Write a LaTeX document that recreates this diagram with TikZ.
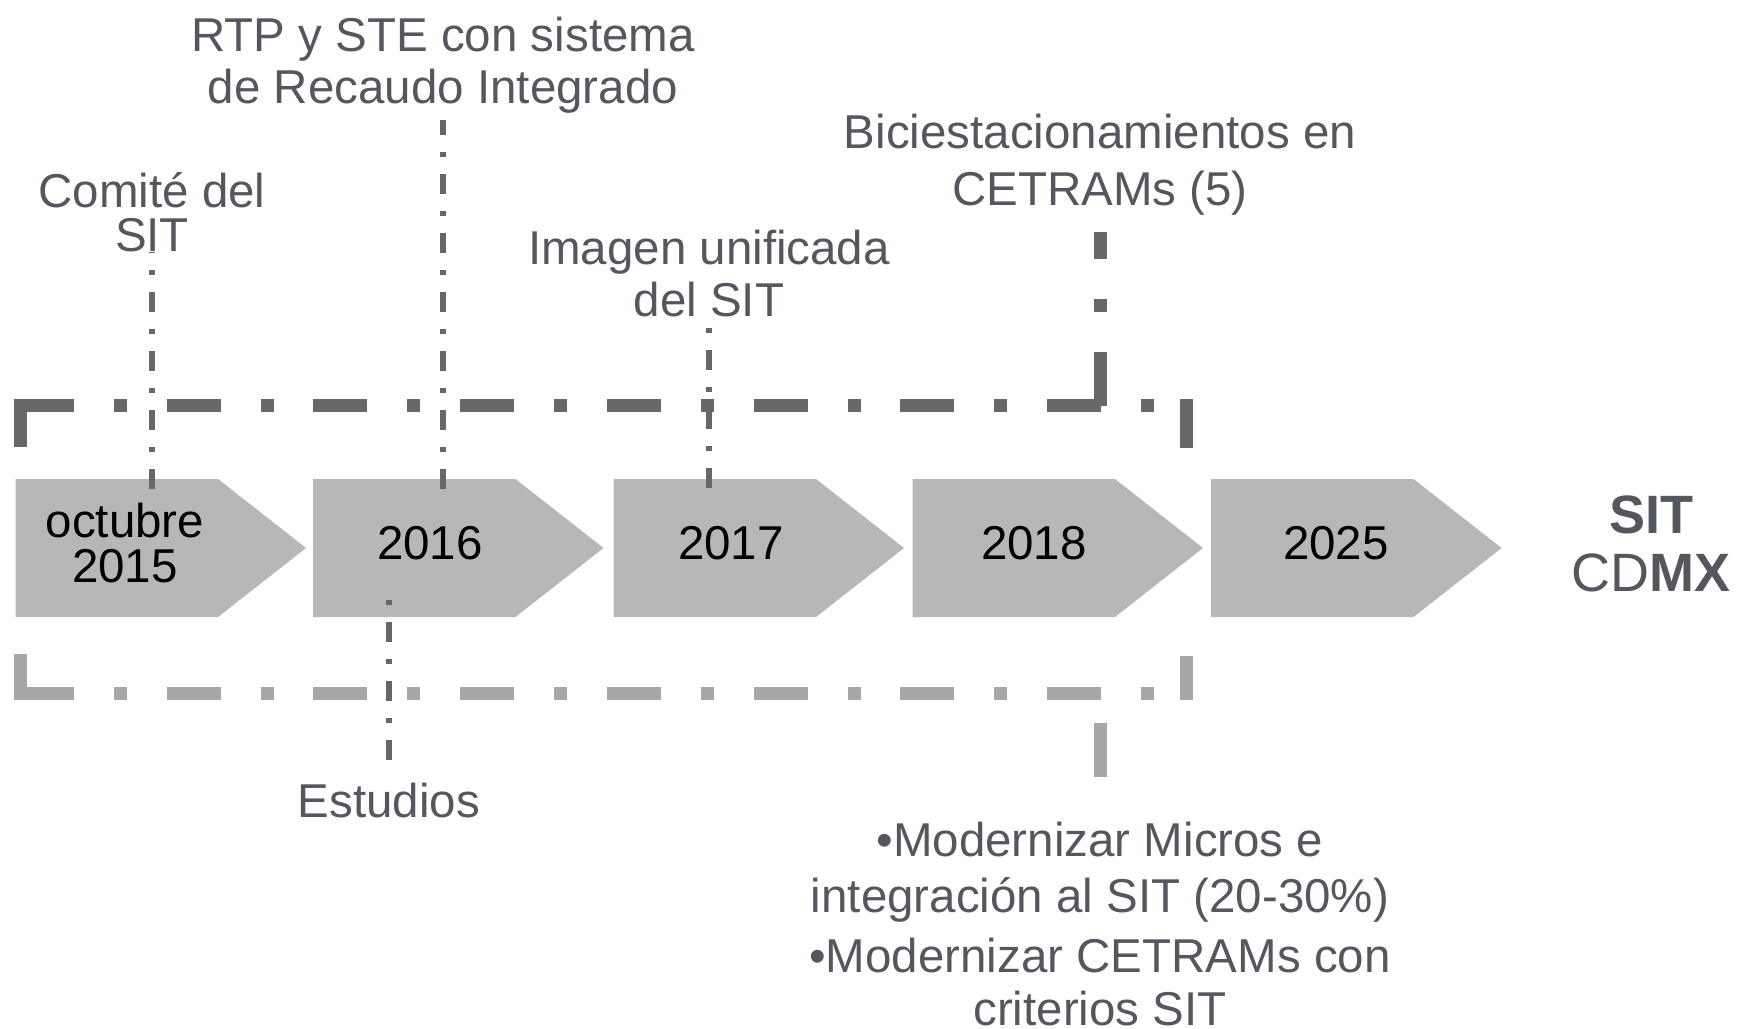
\documentclass[tikz,border=0pt]{standalone}
\usepackage{fontspec}
\setmainfont{Liberation Sans}
\usetikzlibrary{calc}

\definecolor{boxgray}{HTML}{B7B7B7}
\definecolor{darkline}{HTML}{676767}
\definecolor{lightline}{HTML}{A5A8A7}
\definecolor{labelgray}{HTML}{54585E}

\tikzset{
  yearbox/.style={fill=boxgray},
  yeartext/.style={font=\fontsize{23.75}{22.5}\selectfont, align=center, text=black, inner sep=0pt},
  eventtext/.style={font=\fontsize{23.75}{#1}\selectfont, align=center, text=labelgray, inner sep=0pt},
  eventtext/.default=25.5,
  thinlink/.style={draw=darkline, line width=2.75pt, dash pattern=on 10pt off 8.5pt on 2.5pt off 8.5pt},
  bracket/.style={line width=6.5pt, dash pattern=on 27pt off 20pt on 6.5pt off 19.85pt},
}

\begin{document}
\begin{tikzpicture}[x=0.5pt,y=-0.5pt]

	\useasboundingbox (0,0) rectangle (1737,1029);

	% year arrows
	\foreach \l in {15.5,313,613.5,912.5,1211}
		\fill[yearbox] (\l,479) -- ++(202.5,0) -- ++(88,69) -- ++(-88,69) -- ++(-202.5,0) -- cycle;

	\node[yeartext] (y2015) at (125,543) {octubre\\2015};
	\node[yeartext] (y2016) at (430,543) {2016};
	\node[yeartext] (y2017) at (731,543) {2017};
	\node[yeartext] (y2018) at (1034,543) {2018};
	\node[yeartext] (y2025) at (1336,543) {2025};

	% points on the arrows
	\coordinate (c2015) at (152,489);
	\coordinate (c2016) at (443,489);
	\coordinate (c2016b) at (389,600);
	\coordinate (c2017) at (709,488);

	% upper bracket
	\draw[bracket, darkline] (20,405.5) -- (1192,405.5);
	\draw[darkline, line width=6.5pt] (20.5,399) -- (20.5,447) (1186,399) -- (1186,448);
	\coordinate (f2018) at (1100,405.5);

	% lower bracket
	\draw[bracket, lightline] (20,693.5) -- (1192,693.5);
	\draw[lightline, line width=6.5pt] (20.5,654) -- (20.5,700) (1186,656) -- (1186,700);
	\coordinate (f2018b) at (1100,700);

	% labels above
	\node[eventtext=22, anchor=south] (comite) at (152,252) {Comité del\\SIT};
	\node[eventtext=26, anchor=south] (rtp) at (443,113.3) {RTP y STE con sistema\\de Recaudo Integrado};
	\node[eventtext=26, anchor=south] (imagen) at (709,317) {Imagen unificada\\del SIT};
	\node[eventtext=28.6, anchor=south] (bici) at (1100,215.5) {Biciestacionamientos en\\CETRAMs (5)};

	% labels below
	\node[eventtext, anchor=north] (estudios) at (389,783) {Estudios};
	\node[eventtext=26.5, anchor=north] (mods) at (1100,821.3)
		{•Modernizar Micros e\\[1.65pt]integración al SIT (20-30\%)\\[3.5pt]•Modernizar CETRAMs con\\criterios SIT};

	% links
	\draw[thinlink] (c2015) -- (comite.south);
	\draw[thinlink, shorten >=3.35pt] (c2016) -- (rtp.south);
	\draw[thinlink, shorten >=5.5pt] (c2017) -- (imagen.south);
	\draw[thinlink, shorten <=11.5pt] (estudios.north) -- (c2016b);
	\draw[bracket, darkline, shorten >=8.25pt] (f2018) -- (bici.south);
	\draw[bracket, lightline, shorten <=22.15pt] (mods.north) -- (f2018b);

	% title
	\node[font=\fontsize{27}{29}\selectfont, text=labelgray, align=center, inner sep=0pt] (sit) at (1651,544) {\textbf{SIT}\\CD\textbf{MX}};

\end{tikzpicture}
\end{document}
